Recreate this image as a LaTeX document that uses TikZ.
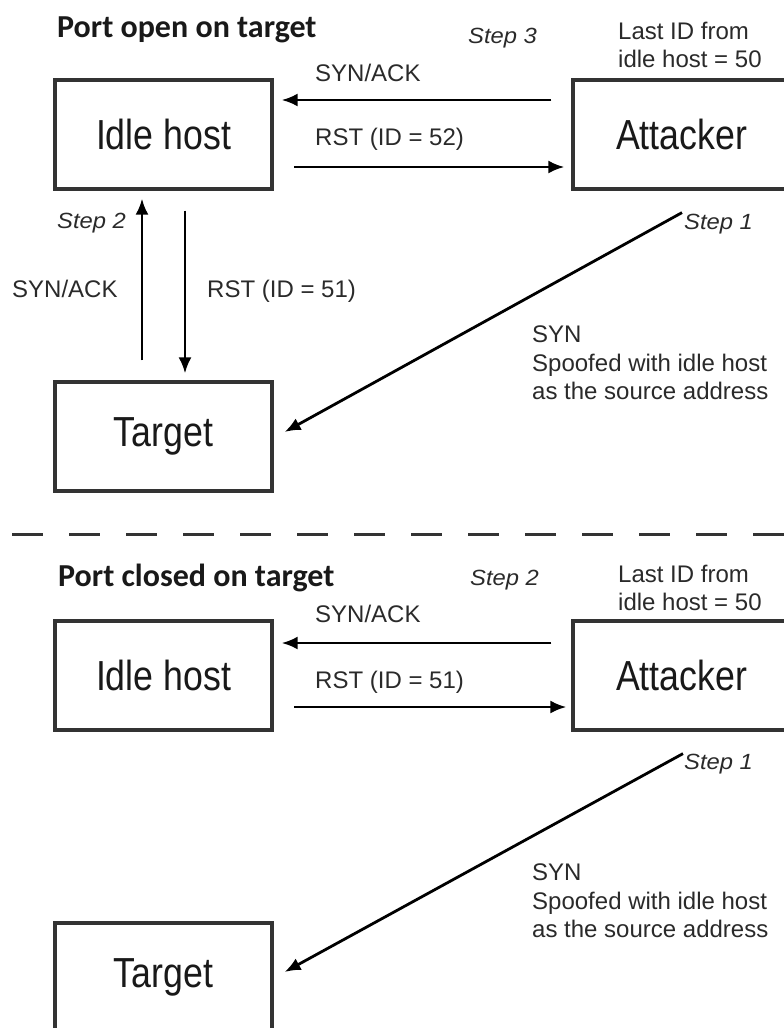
\documentclass[tikz,border=0pt]{standalone}
\usepackage{fontspec}
\setmainfont{Liberation Sans}
\newfontfamily\boxfont[FakeStretch=0.85]{Liberation Sans}
\newfontfamily\stepfont[FakeStretch=1.08]{Liberation Sans}
\newfontfamily\titlefont{Carlito}
\usetikzlibrary{arrows.meta,calc}
\definecolor{edgegray}{HTML}{333333}
\definecolor{txtgray}{HTML}{2A2A2A}
\begin{document}
\begin{tikzpicture}[x=1pt,y=-1pt,
  hostbox/.style={draw=edgegray,line width=3.2pt,fill=white,minimum width=217pt,minimum height=109pt,inner sep=0pt,
    font=\boxfont\fontsize{42}{48}\selectfont,text=black!90},
  lbl/.style={anchor=base west,inner sep=0pt,text=txtgray,font=\fontsize{24}{28}\selectfont},
  steplbl/.style={anchor=base west,inner sep=0pt,text=txtgray,font=\stepfont\itshape\fontsize{22}{26}\selectfont},
  ttl/.style={anchor=base west,inner sep=0pt,text=black!90,font=\titlefont\bfseries\fontsize{32}{36}\selectfont},
  note/.style={anchor=base west,inner sep=0pt,text=txtgray,align=left,font=\fontsize{24}{28.5}\selectfont},
  msg/.style={line width=2.8pt,black,-{Latex[length=16pt,width=13pt]}}
]
\useasboundingbox (0,0) rectangle (784,1028);

% ---------- top: port open ----------
\node[ttl] (t1) at (57,37) {Port open on target};
\node[steplbl] (s3) at (468,43) {Step 3};
\node[note] (last1) at (618,67.5) {Last ID from\\idle host = 50};

\node[hostbox] (idle1) at (163.5,134.5) {Idle host};
\node[hostbox] (att1) at (681.5,134.5) {Attacker};
\node[hostbox] (tgt1) at (163.5,436.5) {Target};

\node[lbl] (synack1) at (315,81.5) {SYN/ACK};
\node[lbl] (rst52) at (315,145) {RST (ID = 52)};

\draw[msg] ($(att1.west)+(-20,-34.5)$) -- ($(idle1.east)+(8,-34.5)$);
\draw[msg] ($(idle1.east)+(20.5,32.5)$) -- ($(att1.west)+(-7,32.5)$);

\node[steplbl] (s2a) at (57,228) {Step 2};
\node[lbl] (synack2) at (12,297.5) {SYN/ACK};
\node[lbl] (rst51a) at (207,297.5) {RST (ID = 51)};

\draw[msg] ($(tgt1.north)+(-21.5,-20)$) -- ($(idle1.south)+(-21.5,8)$);
\draw[msg] ($(idle1.south)+(21.5,20)$) -- ($(tgt1.north)+(21.5,-7)$);

\node[steplbl] (s1a) at (684,229) {Step 1};
\node[note] (syn1) at (532,399.5) {SYN\\Spoofed with idle host\\as the source address};

\draw[msg] ($(att1.south)+(0.5,22)$) -- ($(tgt1.east)+(11,-4.5)$);

% ---------- separator ----------
\draw[line width=3pt,edgegray,dash pattern=on 31pt off 26pt] (12,534) -- (790,534);

% ---------- bottom: port closed ----------
\node[ttl] (t2) at (58,586) {Port closed on target};
\node[steplbl] (s2b) at (470,585) {Step 2};
\node[note] (last2) at (618,610.5) {Last ID from\\idle host = 50};

\node[hostbox] (idle2) at (163.5,675.5) {Idle host};
\node[hostbox] (att2) at (681.5,675.5) {Attacker};
\node[hostbox] (tgt2) at (163.5,977.5) {Target};

\node[lbl] (synack3) at (315,622.5) {SYN/ACK};
\node[lbl] (rst51b) at (315,688.5) {RST (ID = 51)};

\draw[msg] ($(att2.west)+(-20,-32.5)$) -- ($(idle2.east)+(8,-32.5)$);
\draw[msg] ($(idle2.east)+(20.5,31.5)$) -- ($(att2.west)+(-5,31.5)$);

\node[steplbl] (s1b) at (684,769) {Step 1};
\node[note] (syn2) at (532,937.5) {SYN\\Spoofed with idle host\\as the source address};

\draw[msg] ($(att2.south)+(1.5,22)$) -- ($(tgt2.east)+(11,-5.5)$);
\end{tikzpicture}
\end{document}
